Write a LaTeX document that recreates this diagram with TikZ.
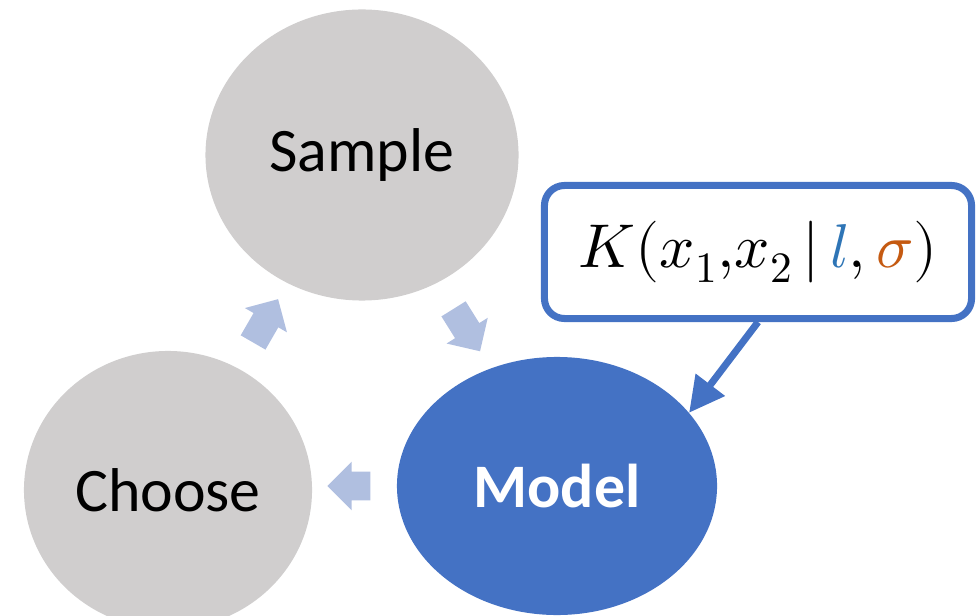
\documentclass[tikz,border=0pt]{standalone}
\usepackage{fontspec}
\usepackage{unicode-math}
\setmainfont{Carlito}
\usetikzlibrary{shapes.geometric,shapes.arrows,arrows.meta}
\definecolor{ringgray}{HTML}{D0CECE}
\definecolor{modelblue}{HTML}{4472C4}
\definecolor{flowblue}{HTML}{B0BFE0}
\definecolor{lenblue}{HTML}{2E75B6}
\definecolor{sigorange}{HTML}{C55A11}

\begin{document}
\begin{tikzpicture}[x=0.025cm,y=-0.025cm,
    stage/.style={ellipse,fill=ringgray,inner sep=0pt,font=\fontsize{44}{52}\selectfont},
    flow/.style={single arrow,fill=flowblue,inner sep=0.35cm,single arrow head extend=0.25cm,minimum height=1.25cm},
    pointer/.style={draw=modelblue,line width=5pt,-{Triangle[length=25pt,width=25pt]}}]
    % canvas
    \useasboundingbox (0,0) rectangle (979,616);
    \clip (0,0) rectangle (979,616);

    % cycle
    \node[stage,minimum width=7.825cm,minimum height=7.275cm] (sample) at (362,155) {Sample};
    \node[stage,minimum width=7.2cm,minimum height=6.95cm] (choose) at (168,490) {Choose};
    \node[stage,fill=modelblue,text=white,font=\fontsize{44}{52}\selectfont\bfseries,
        minimum width=8cm,minimum height=6.45cm] (model) at (557,486) {Model};

    % block arrows
    \node[flow,rotate=-58] (toModel) at (463,324) {};
    \node[flow,rotate=180,minimum height=1.075cm] (toChoose) at (356,486) {};
    \node[flow,rotate=60] (toSample) at (262,327) {};

    % kernel callout
    \node[draw=modelblue,fill=white,line width=5pt,rounded corners=0.5cm,
        minimum width=10.675cm,minimum height=3.325cm,font=\fontsize{44}{52}\selectfont] (kernel) at (758,252)
        {\raisebox{-5pt}{$K(x_1{,}x_2\,|\,\textcolor{lenblue}{l},\textcolor{sigorange}{\sigma})$}};
    \draw[pointer] (kernel.south) -- (model.29);
\end{tikzpicture}
\end{document}
